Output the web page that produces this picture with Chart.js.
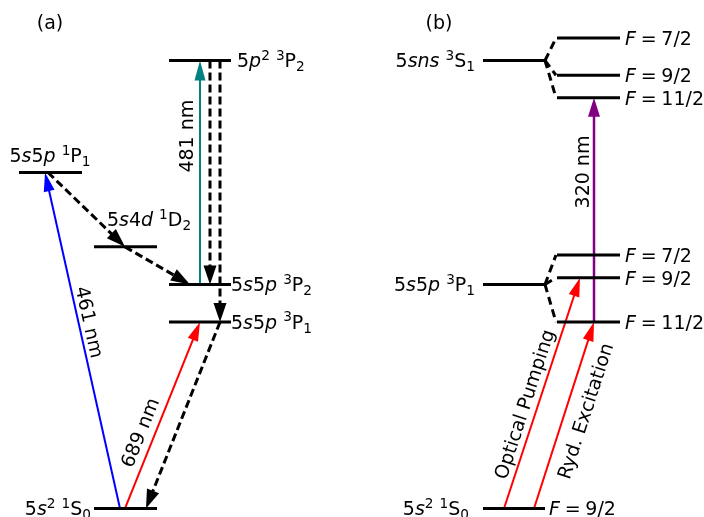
<!DOCTYPE html>
<html><head><meta charset="utf-8">
<script src="https://cdn.jsdelivr.net/npm/chart.js@4/dist/chart.umd.min.js"></script>
<style>html,body{margin:0;padding:0;background:#fff}canvas{display:block}</style>
</head><body>
<canvas id="c" width="704" height="517"></canvas>
<script>
// ---------------- data ----------------
// Energy levels (schematic energy, arbitrary units) and horizontal extent (diagram units)
const levelNames  = ['5p2 3P2','5s5p 1P1','5s4d 1D2','5s5p 3P2','5s5p 3P1','5s2 1S0',
                     '5sns 3S1','3S1 F=7/2','3S1 F=9/2','3S1 F=11/2',
                     '5s5p 3P1 (b)','3P1 F=7/2','3P1 F=9/2','3P1 F=11/2','5s2 1S0 (b)'];
const levelEnergy = [10.0, 7.5, 5.84, 5.0, 4.16, 0.0,
                     10.0, 10.5, 9.67, 9.17,
                     5.0, 5.66, 5.15, 4.16, 0.0];
const levelStart  = [16.9, 1.9, 9.4, 16.9, 16.9, 9.4,
                     48.3, 55.7, 55.7, 55.7,
                     48.3, 55.7, 55.7, 55.7, 48.3];
const levelEnd    = [23.1, 8.2, 15.7, 23.1, 23.1, 15.7,
                     54.5, 62.0, 62.0, 62.0,
                     54.5, 62.0, 62.0, 62.0, 54.5];

// Transitions: from level / x  ->  to level / x, kind
const transName  = ['461 nm','689 nm','481 nm','decay a','decay b','decay c','decay d','decay e',
                    '320 nm','Optical Pumping','Ryd. Excitation'];
const transFrom  = [5, 5, 3, 0, 0, 1, 2, 4, 13, 14, 14];
const transFromX = [12.0, 12.5, 20.0, 21.0, 22.0, 4.8, 12.5, 22.0, 59.4, 50.4, 53.4];
const transTo    = [1, 4, 0, 3, 4, 2, 3, 5, 9, 12, 13];
const transToX   = [4.5, 20.0, 20.0, 21.0, 22.0, 12.5, 19.0, 14.6, 59.4, 58.0, 59.4];
const transKind  = ['blue','red','teal','decay','decay','decay','decay','decay','purple','red','red'];

// Hyperfine splitting connectors (dashed)
const splitFrom = [6, 6, 6, 10, 10, 10];
const splitTo   = [7, 8, 9, 11, 12, 13];

// ---------------- styles / layout ----------------
const kindStyle = {
  blue:   {color:'#0000ff', width:2,   dash:[], hl:19, hw:5.5},
  red:    {color:'#ff0000', width:2,   dash:[], hl:19, hw:5.5},
  teal:   {color:'#008080', width:2,   dash:[], hl:20, hw:5.5},
  purple: {color:'#800080', width:2.5, dash:[], hl:19, hw:6},
  decay:  {color:'#000000', width:3,   dash:[8,4], hl:19, hw:6.5}
};
const FS = 19;
const TS = '\u2005';
const textLabels = [
  {t:'(a)', x:5.0, y:10.85, a:'center'},
  {t:'(b)', x:43.9, y:10.85, a:'center'},
  {t:'5<i>p</i><sup>2</sup> <sup>3</sup>P<sub>2</sub>', x:23.7, y:10.0, a:'left'},
  {t:'5<i>s</i>5<i>p</i> <sup>1</sup>P<sub>1</sub>', x:5.0, y:7.88, a:'center'},
  {t:'5<i>s</i>4<i>d</i> <sup>1</sup>D<sub>2</sub>', x:14.9, y:6.45, a:'center'},
  {t:'5<i>s</i>5<i>p</i> <sup>3</sup>P<sub>2</sub>', x:23.1, y:5.0, a:'left'},
  {t:'5<i>s</i>5<i>p</i> <sup>3</sup>P<sub>1</sub>', x:23.1, y:4.16, a:'left'},
  {t:'5<i>s</i><sup>2</sup> <sup>1</sup>S<sub>0</sub>', x:9.1, y:0.0, a:'right'},
  {t:'5<i>sns</i> <sup>3</sup>S<sub>1</sub>', x:47.5, y:10.0, a:'right'},
  {t:'<i>F</i>'+TS+'='+TS+'7/2', x:62.5, y:10.5, a:'left'},
  {t:'<i>F</i>'+TS+'='+TS+'9/2', x:62.5, y:9.67, a:'left'},
  {t:'<i>F</i>'+TS+'='+TS+'11/2', x:62.5, y:9.17, a:'left'},
  {t:'5<i>s</i>5<i>p</i> <sup>3</sup>P<sub>1</sub>', x:47.5, y:5.0, a:'right'},
  {t:'<i>F</i>'+TS+'='+TS+'7/2', x:62.5, y:5.66, a:'left'},
  {t:'<i>F</i>'+TS+'='+TS+'9/2', x:62.5, y:5.15, a:'left'},
  {t:'<i>F</i>'+TS+'='+TS+'11/2', x:62.5, y:4.16, a:'left'},
  {t:'5<i>s</i><sup>2</sup> <sup>1</sup>S<sub>0</sub>', x:46.9, y:0.0, a:'right'},
  {t:'<i>F</i>'+TS+'='+TS+'9/2', x:54.9, y:0.0, a:'left'},
  {t:'461 nm', x:9.0, y:4.16, a:'center', rot:77.4},
  {t:'689 nm', x:13.95, y:1.70, a:'center', rot:-68},
  {t:'481 nm', x:18.65, y:8.31, a:'center', rot:-90},
  {t:'320 nm', x:58.2, y:7.51, a:'center', rot:-90},
  {t:'Optical Pumping', x:52.4, y:2.33, a:'center', rot:-72},
  {t:'Ryd. Excitation', x:58.5, y:2.18, a:'center', rot:-72}
];

// ---------------- datasets ----------------
const datasets = [];
levelNames.forEach((n,i)=>{
  datasets.push({label:n, data:[{x:levelStart[i],y:levelEnergy[i]},{x:levelEnd[i],y:levelEnergy[i]}],
    borderColor:'#000', borderWidth:3, showLine:true, pointRadius:0, fill:false});
});
splitFrom.forEach((f,i)=>{
  const t = splitTo[i];
  datasets.push({label:'split'+i, data:[{x:levelEnd[f],y:levelEnergy[f]},{x:levelStart[t]-0.1,y:levelEnergy[t]}],
    borderColor:'#000', borderWidth:3, borderDash:[8,5], showLine:true, pointRadius:0, fill:false});
});
transName.forEach((n,i)=>{
  const s = kindStyle[transKind[i]];
  datasets.push({label:n, data:[{x:transFromX[i],y:levelEnergy[transFrom[i]]},{x:transToX[i],y:levelEnergy[transTo[i]]}],
    borderColor:s.color, borderWidth:s.width, borderDash:s.dash, showLine:true, pointRadius:0, fill:false,
    arrow:true, headLength:s.hl, headWidth:s.hw});
});

// ---------------- plugins ----------------
function headGeom(meta, ds){
  const p1 = meta.data[0], p2 = meta.data[meta.data.length-1];
  const dx=p2.x-p1.x, dy=p2.y-p1.y, L=Math.hypot(dx,dy), ux=dx/L, uy=dy/L;
  const bx=p2.x-ux*ds.headLength, by=p2.y-uy*ds.headLength;
  return {tip:[p2.x,p2.y], base:[bx,by], ux, uy, hw:ds.headWidth};
}
const arrowPlugin = {
  id:'arrows',
  beforeDatasetDraw(chart, args){
    const ds = chart.data.datasets[args.index];
    if(!ds.arrow) return;
    const g = headGeom(args.meta, ds), ctx = chart.ctx;
    ctx.save();
    ctx.beginPath();
    ctx.rect(0,0,chart.width,chart.height);
    const W=40, px=-g.uy, py=g.ux;
    const b1=[g.base[0]+g.ux*1+px*W, g.base[1]+g.uy*1+py*W];
    const b2=[g.base[0]+g.ux*1-px*W, g.base[1]+g.uy*1-py*W];
    const t1=[g.tip[0]+g.ux*10-px*W, g.tip[1]+g.uy*10-py*W];
    const t2=[g.tip[0]+g.ux*10+px*W, g.tip[1]+g.uy*10+py*W];
    ctx.moveTo(b1[0],b1[1]); ctx.lineTo(b2[0],b2[1]); ctx.lineTo(t1[0],t1[1]); ctx.lineTo(t2[0],t2[1]); ctx.closePath();
    ctx.clip('evenodd');
  },
  afterDatasetDraw(chart, args){
    const ds = chart.data.datasets[args.index];
    if(!ds.arrow) return;
    const ctx = chart.ctx;
    ctx.restore();
    const g = headGeom(args.meta, ds);
    const px=-g.uy, py=g.ux;
    ctx.save();
    ctx.fillStyle = ds.borderColor;
    ctx.beginPath();
    ctx.moveTo(g.tip[0], g.tip[1]);
    ctx.lineTo(g.base[0]+px*g.hw, g.base[1]+py*g.hw);
    ctx.lineTo(g.base[0]-px*g.hw, g.base[1]-py*g.hw);
    ctx.closePath();
    ctx.fill();
    ctx.restore();
  }
};

function parseRich(s){
  const parts = s.split(/(<\/?(?:i|sup|sub)>)/);
  let it=false, mode='n'; const segs=[];
  parts.forEach(p=>{
    if(p==='<i>') it=true; else if(p==='</i>') it=false;
    else if(p==='<sup>') mode='sup'; else if(p==='<sub>') mode='sub';
    else if(p==='</sup>'||p==='</sub>') mode='n';
    else if(p.length) segs.push({t:p, it, mode});
  });
  return segs;
}
const textPlugin = {
  id:'texts',
  afterDraw(chart){
    const ctx = chart.ctx, xs = chart.scales.x, ys = chart.scales.y;
    textLabels.forEach(L=>{
      const segs = parseRich(L.t);
      let total=0;
      segs.forEach(sg=>{
        const sz = sg.mode==='n'?FS:FS*0.72;
        sg.font = (sg.it?'italic ':'')+sz.toFixed(2)+'px "DejaVu Sans"';
        ctx.font = sg.font;
        sg.w = ctx.measureText(sg.t).width;
        sg.dy = sg.mode==='sup'?-FS*0.40:(sg.mode==='sub'?FS*0.20:0);
        total += sg.w;
      });
      const cx = xs.getPixelForValue(L.x), cy = ys.getPixelForValue(L.y);
      ctx.save();
      ctx.translate(cx, cy);
      if(L.rot) ctx.rotate(L.rot*Math.PI/180);
      let x0 = L.a==='left'?0:(L.a==='right'?-total:-total/2);
      const base = FS*0.36;
      ctx.fillStyle='#000'; ctx.textBaseline='alphabetic'; ctx.textAlign='left';
      segs.forEach(sg=>{
        ctx.font = sg.font;
        ctx.fillText(sg.t, x0, base+sg.dy);
        x0 += sg.w;
      });
      ctx.restore();
    });
  }
};

new Chart(document.getElementById('c'), {
  type:'scatter',
  data:{datasets},
  options:{
    responsive:false, animation:false, events:[],
    layout:{padding:0},
    plugins:{legend:{display:false}, tooltip:{enabled:false}, title:{display:false}},
    scales:{
      x:{type:'linear', min:0, max:70.4, display:false},
      y:{type:'linear', min:-0.19, max:11.35, display:false}
    }
  },
  plugins:[arrowPlugin, textPlugin]
});
</script>
</body></html>
